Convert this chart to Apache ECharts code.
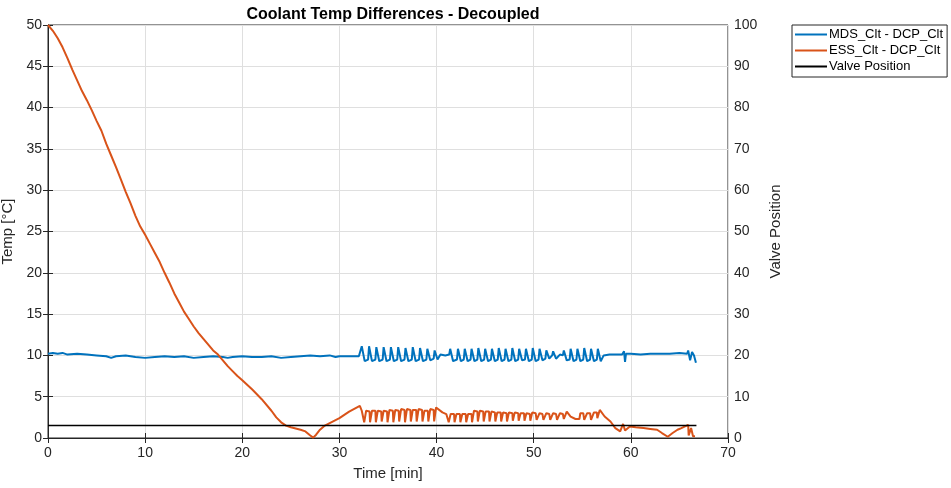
<!DOCTYPE html>
<html><head><meta charset="utf-8">
<script src="https://cdn.jsdelivr.net/npm/echarts@6/dist/echarts.min.js"></script>
<style>html,body{margin:0;padding:0;background:#fff}#c{width:951px;height:488px}</style>
</head><body><div id="c"></div>
<script>
const titleText = 'Coolant Temp Differences - Decoupled';
const seriesNames = ['MDS_Clt - DCP_Clt', 'ESS_Clt - DCP_Clt', 'Valve Position'];

const mdsData = [
[0,10.2],[0.5,10.3],[1,10.2],[1.5,10.3],[2,10.1],[3,10.2],[4,10.1],[5,10.0],[6,9.9],[6.5,9.7],[7,9.9],[8,10.0],[9,9.8],[10,9.7],[11,9.8],[12,9.9],[13,9.8],[14,9.9],[15,9.7],[16,9.8],[17,9.9],[18,9.8],[18.5,9.7],[19,9.8],[20,9.9],[21,9.8],[22,9.8],[23,9.9],[24,9.7],[25,9.8],[26,9.9],[27,10.0],[28,9.9],[29,10.0],[29.6,9.8],[30,9.9],[31,9.9],[32,9.9],
[32.2,10.0],[32.3,11.1],[32.6,9.3],[32.95,9.5],[33.05,11.1],[33.35,9.3],[33.7,9.5],[33.8,11.0],[34.1,9.3],[34.45,9.5],[34.55,11.0],[34.85,9.3],[35.2,9.5],[35.3,11.0],[35.6,9.3],[35.95,9.5],[36.05,11.0],[36.35,9.3],[36.7,9.5],[36.8,10.9],[37.1,9.3],[37.45,9.5],[37.55,11.0],[37.85,9.3],[38.2,9.5],[38.3,10.9],[38.6,9.3],[38.95,9.5],[39.05,10.8],[39.35,9.4],[39.7,9.6],[39.8,10.6],[40.1,9.5],[40.4,10.1],[40.9,10.0],[41.3,10.1],
[41.4,10.8],[41.7,9.3],[42.1,9.5],[42.2,10.8],[42.5,9.3],[42.8,9.5],[42.9,10.8],[43.2,9.3],[43.5,9.5],[43.6,10.8],[43.9,9.3],[44.2,9.5],[44.3,10.9],[44.6,9.3],[44.9,9.5],[45.0,10.8],[45.3,9.3],[45.6,9.5],[45.7,10.8],[46.0,9.3],[46.3,9.5],[46.4,10.9],[46.7,9.3],[47.0,9.5],[47.1,10.8],[47.4,9.3],[47.7,9.5],[47.8,10.9],[48.1,9.3],[48.4,9.5],[48.5,10.8],[48.8,9.4],[49.1,9.5],[49.2,10.8],[49.5,9.3],[49.8,9.5],[49.9,10.9],[50.2,9.3],[50.5,9.5],[50.6,10.8],[50.9,9.4],[51.2,9.6],[51.3,10.6],[51.6,9.6],[51.9,10.0],[52.0,10.5],[52.3,9.6],[52.7,10.1],[53.0,10.0],[53.1,10.6],[53.4,9.4],[53.7,9.5],[53.8,10.8],[54.1,9.3],[54.4,9.5],[54.5,10.8],[54.8,9.3],[55.1,9.5],[55.2,10.9],[55.5,9.3],[55.8,9.5],[55.9,10.8],[56.2,9.3],[56.5,9.5],[56.6,10.8],[56.9,9.3],[57.2,10.0],
[57.8,10.1],[58.5,10.1],[59.1,10.1],[59.3,10.5],[59.4,9.2],[59.5,10.2],[60,10.2],[61,10.1],[62,10.2],[63,10.2],[64,10.2],[65,10.3],[65.8,10.2],[65.9,10.6],[66.1,9.4],[66.3,10.4],[66.5,10.0],[66.7,9.1]
];

const essData = [
[0,50],[0.5,49.3],[1,48.4],[1.5,47.3],[2,46.0],[2.5,44.6],[3,43.3],[3.5,42.0],[4,40.9],[4.5,39.7],[5,38.4],[5.5,37.2],[6,35.6],[6.5,34.2],[7,32.8],[7.5,31.3],[8,29.8],[8.5,28.4],[9,26.9],[9.5,25.6],[10,24.6],[10.5,23.5],[11,22.4],[11.5,21.3],[12,20.0],[12.5,18.8],[13,17.5],[13.5,16.4],[14,15.3],[14.5,14.4],[15,13.5],[15.5,12.7],[16,12.0],[16.5,11.3],[17,10.6],[17.5,10.1],[18,9.4],[18.5,8.7],[19,8.1],[19.5,7.5],[20,7.0],[21,5.9],[22,4.7],[23,3.3],[23.5,2.5],[24,1.9],[24.5,1.5],[25,1.3],[26,1.0],[26.5,0.8],[27,0.3],[27.3,0.05],[27.6,0.4],[28,1.0],[28.5,1.5],[29,1.8],[30,2.4],[31,3.2],[32.1,3.9],
[32.3,3.3],[32.5,3.2],[32.55,1.9],[32.7,1.9],[32.75,3.3],[33.1,3.2],[33.15,1.9],[33.3,1.9],[33.35,3.3],[33.7,3.3],[33.75,1.9],[33.9,1.9],[33.95,3.3],[34.3,3.2],[34.35,2.0],[34.5,2.0],[34.55,3.3],[34.9,3.2],[34.95,1.9],[35.1,1.9],[35.15,3.4],[35.5,3.3],[35.55,1.9],[35.7,1.9],[35.75,3.4],[36.1,3.3],[36.15,2.0],[36.3,2.0],[36.35,3.5],[36.7,3.4],[36.75,1.9],[36.9,1.9],[36.95,3.5],[37.3,3.4],[37.35,2.0],[37.5,2.0],[37.55,3.4],[37.9,3.4],[37.95,2.0],[38.1,2.0],[38.15,3.5],[38.5,3.4],[38.55,2.0],[38.7,2.0],[38.75,3.3],[39.1,3.3],[39.15,2.0],[39.3,2.0],[39.35,3.5],[39.7,3.4],[39.75,2.0],[39.9,2.0],[39.95,3.7],[40.1,3.6],[40.6,3.1],[41.0,2.9],
[41.2,2.9],[41.25,1.9],[41.4,1.9],[41.45,2.9],[41.8,2.9],[41.85,1.9],[42.0,1.9],[42.05,2.9],[42.4,2.9],[42.45,1.9],[42.6,1.9],[42.65,2.9],[43.0,2.9],[43.05,1.9],[43.2,1.9],[43.25,2.9],[43.6,2.9],[43.65,1.9],[43.8,1.9],[43.85,3.3],[44.2,3.2],[44.25,2.0],[44.4,2.0],[44.45,3.3],[44.8,3.2],[44.85,2.0],[45.0,2.0],[45.05,3.2],[45.4,3.2],[45.45,2.0],[45.6,2.0],[45.65,3.2],[46.0,3.1],[46.05,2.0],[46.2,2.0],[46.25,3.1],[46.6,3.1],[46.65,2.0],[46.8,2.0],[46.85,3.1],[47.2,3.0],[47.25,2.0],[47.4,2.0],[47.45,3.1],[47.8,3.0],[47.85,2.1],[48.0,2.1],[48.05,3.1],[48.4,3.0],[48.45,2.1],[48.6,2.1],[48.65,3.0],[49.0,3.0],[49.05,2.1],[49.2,2.1],[49.25,3.0],[49.6,2.9],[49.65,2.1],[49.8,2.1],[49.85,3.1],[50.2,3.0],[50.3,2.2],[50.5,2.2],[50.6,3.0],[50.9,2.9],[51.0,2.2],[51.2,2.2],[51.3,3.0],[51.6,2.9],[51.7,2.2],[51.9,2.2],[52.0,3.0],[52.3,2.9],[52.4,2.2],[52.6,2.2],[52.7,3.0],[53.0,2.9],[53.1,2.3],[53.3,2.4],[53.4,3.2],[53.8,2.6],[54.3,2.3],[54.7,2.3],[54.8,3.0],[55.1,3.0],[55.2,2.2],[55.4,2.2],[55.5,3.0],[55.8,3.0],[55.9,2.2],[56.1,2.2],[56.2,3.1],[56.5,3.1],[56.55,2.4],[56.7,2.4],[56.8,3.4],
[57.3,2.6],[57.9,2.0],[58.4,1.2],[58.9,0.8],[59.1,1.0],[59.2,1.7],[59.3,1.6],[59.4,0.9],[59.9,1.4],[60.5,1.3],[61.3,1.2],[62,1.1],[62.7,1.0],[63.2,0.6],[63.8,0.15],[64.3,0.6],[64.8,1.0],[65.2,1.2],[65.9,1.6],[65.95,0.3],[66.15,0.3],[66.2,1.2],[66.35,1.2],[66.4,0.2],[66.6,0.2]
];

const valveData = [[0,3],[66.75,3]];

const xTicks = {min:0, max:70, interval:10};
const yLeftTicks = {min:0, max:50, interval:5};
const yRightTicks = {min:0, max:100, interval:10};

const FONT = '"Liberation Sans", Arial, Helvetica, sans-serif';
const TXT = '#262626';
const chart = echarts.init(document.getElementById('c'), null, {renderer:'canvas'});
const lbl = {color:TXT, fontFamily:FONT, fontSize:14};
const axLine = {show:true, lineStyle:{color:TXT, width:1}};
const tick = {show:true, inside:true, length:5, lineStyle:{color:TXT, width:1}};
chart.setOption({
  animation:false,
  backgroundColor:'#fff',
  title:{text:titleText, left:388, top:2, textAlign:'center',
    textStyle:{fontFamily:FONT, fontSize:16, fontWeight:'bold', color:'#000'}},
  legend:{
    orient:'vertical', left:792, top:25, padding:[3,4,4,3], itemGap:3,
    backgroundColor:'#fff', borderColor:TXT, borderWidth:1, borderRadius:0,
    itemWidth:32, itemHeight:2, icon:'rect',
    textStyle:{fontFamily:FONT, fontSize:13, color:'#000', padding:[0,0,0,-3]},
    data:seriesNames
  },
  grid:{left:48, right:223, top:25, bottom:50, show:true, borderColor:TXT, borderWidth:1,
    backgroundColor:'transparent', containLabel:false, outerBoundsMode:'none'},
  xAxis:[
    {type:'value', min:xTicks.min, max:xTicks.max, interval:xTicks.interval, position:'bottom',
     name:'Time [min]', nameLocation:'middle', nameGap:28,
     nameTextStyle:{fontFamily:FONT, fontSize:15, color:TXT},
     axisLine:axLine, axisTick:tick, axisLabel:{...lbl, margin:8},
     splitLine:{show:true, lineStyle:{color:'#dfdfdf', width:1}}},
    {type:'value', min:xTicks.min, max:xTicks.max, interval:xTicks.interval, position:'top',
     axisLine:axLine, axisTick:tick, axisLabel:{show:false}, splitLine:{show:false}}
  ],
  yAxis:[
    {type:'value', min:yLeftTicks.min, max:yLeftTicks.max, interval:yLeftTicks.interval, position:'left',
     name:'Temp [°C]', nameLocation:'middle', nameGap:20,
     nameTextStyle:{fontFamily:FONT, fontSize:15, color:TXT},
     axisLine:axLine, axisTick:tick, axisLabel:{...lbl, margin:6},
     splitLine:{show:true, lineStyle:{color:'#dfdfdf', width:1}}},
    {type:'value', min:yRightTicks.min, max:yRightTicks.max, interval:yRightTicks.interval, position:'right',
     name:'Valve Position', nameLocation:'middle', nameGap:40, nameRotate:90,
     nameTextStyle:{fontFamily:FONT, fontSize:15, color:TXT},
     axisLine:axLine, axisTick:tick, axisLabel:{...lbl, margin:6},
     splitLine:{show:false}}
  ],
  series:[
    {name:seriesNames[0], type:'line', data:mdsData, showSymbol:false, symbol:'none',
     lineStyle:{color:'#0072BD', width:2}, itemStyle:{color:'#0072BD'}, z:3},
    {name:seriesNames[1], type:'line', data:essData, showSymbol:false, symbol:'none',
     lineStyle:{color:'#D95319', width:2}, itemStyle:{color:'#D95319'}, z:4},
    {name:seriesNames[2], type:'line', data:valveData, yAxisIndex:1, showSymbol:false, symbol:'none',
     lineStyle:{color:'#000', width:1.5}, itemStyle:{color:'#000'}, z:5}
  ]
});
</script></body></html>
